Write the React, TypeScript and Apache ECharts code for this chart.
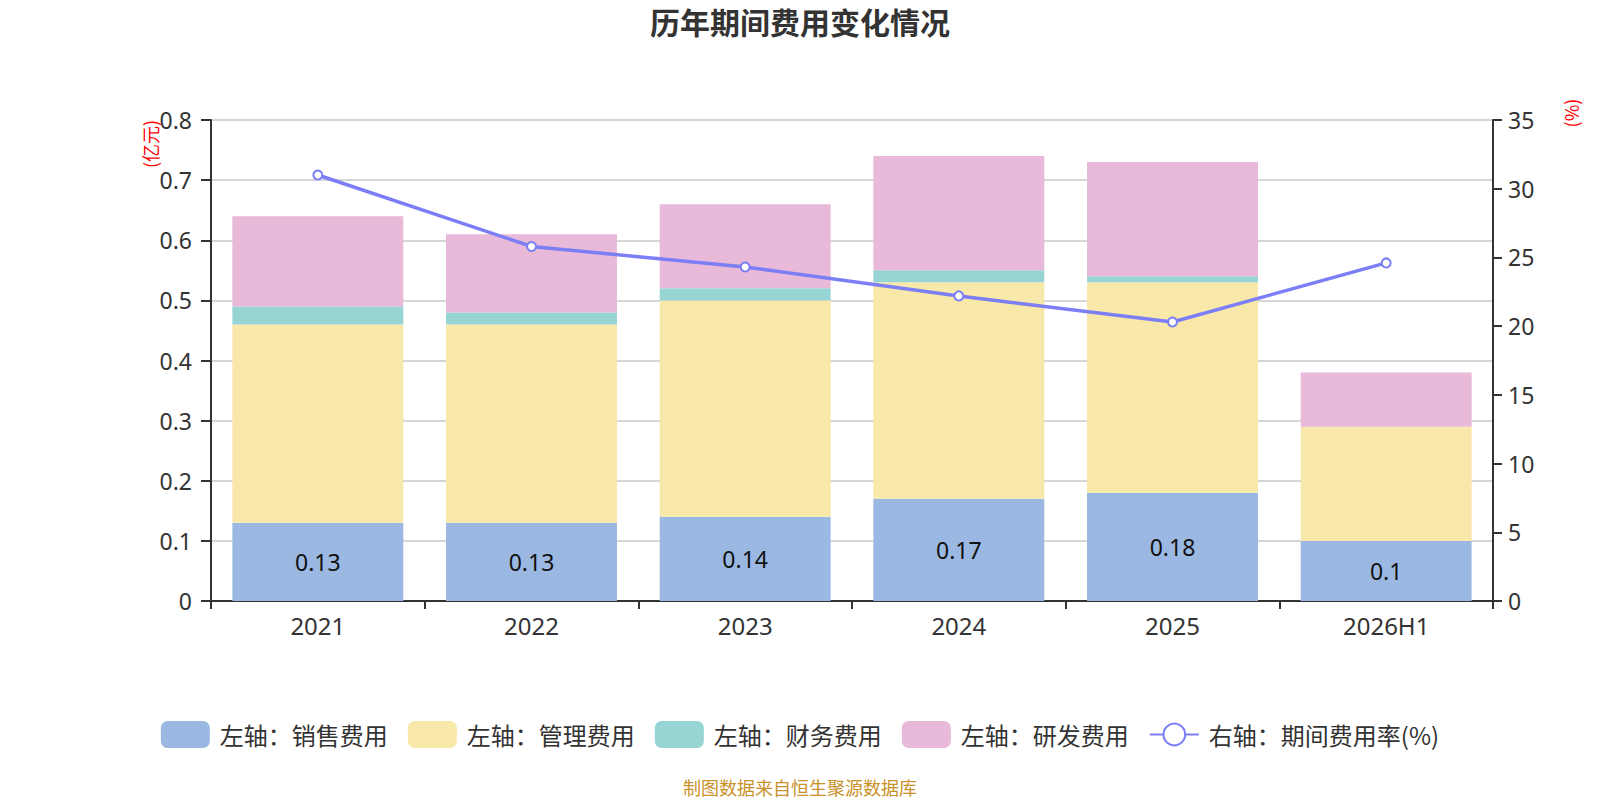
import React, { useEffect, useRef } from "react";
import * as echarts from "echarts";

const categories = ["2021", "2022", "2023", "2024", "2025", "2026H1"];
const salesExpense = [0.13, 0.13, 0.14, 0.17, 0.18, 0.1];
const adminExpense = [0.33, 0.33, 0.36, 0.36, 0.35, 0.19];
const financeExpense = [0.03, 0.02, 0.02, 0.02, 0.01, 0];
const rdExpense = [0.15, 0.13, 0.14, 0.19, 0.19, 0.09];
const expenseRate = [31.0, 25.8, 24.3, 22.2, 20.3, 24.6];

const FONT = "'Noto Sans', 'Noto Sans CJK SC', sans-serif";
const CJK_FONT = "'Noto Sans CJK SC', 'Noto Sans', sans-serif";

export default function App() {
  const chartRef = useRef<HTMLDivElement>(null);

  useEffect(() => {
    if (!chartRef.current) return;
    const chart = echarts.init(chartRef.current, undefined, { renderer: "svg" });

    const barSeries = (name: string, data: number[], color: string, showLabel = false) => ({
      name,
      type: "bar",
      stack: "total",
      barWidth: "80%",
      data,
      itemStyle: { color },
      label: showLabel
        ? { show: true, position: "inside", fontSize: 23, color: "#111", fontFamily: FONT }
        : { show: false },
    });

    const option: echarts.EChartsOption = {
      animation: false,
      textStyle: { fontFamily: FONT },
      title: {
        text: "历年期间费用变化情况",
        left: "center",
        top: 1,
        textStyle: { fontSize: 30, fontWeight: "bold", color: "#333", fontFamily: CJK_FONT },
      },
      grid: { left: 211, right: 107, top: 120, bottom: 199 },
      legend: {
        bottom: 47,
        left: "center",
        itemWidth: 49,
        itemHeight: 27,
        itemGap: 20,
        textStyle: { fontSize: 24, color: "#333", fontFamily: CJK_FONT, padding: [0, 0, 0, 5] },
        data: [
          { name: "左轴：销售费用", icon: "roundRect" },
          { name: "左轴：管理费用", icon: "roundRect" },
          { name: "左轴：财务费用", icon: "roundRect" },
          { name: "左轴：研发费用", icon: "roundRect" },
          { name: "右轴：期间费用率(%)" },
        ],
      },
      xAxis: {
        type: "category",
        data: categories,
        axisLine: { lineStyle: { color: "#333", width: 2 } },
        axisTick: { show: true, length: 8, lineStyle: { color: "#333", width: 2 } },
        axisLabel: { fontSize: 24, color: "#333", margin: 12 },
      },
      yAxis: [
        {
          type: "value",
          min: 0,
          max: 0.8,
          interval: 0.1,
          axisLine: { show: true, lineStyle: { color: "#333", width: 2 } },
          axisTick: { show: true, length: 10, lineStyle: { color: "#333", width: 2 } },
          axisLabel: { fontSize: 23, color: "#333", margin: 19 },
          splitLine: { lineStyle: { color: "#c8c8c8", width: 1.5 } },
        },
        {
          type: "value",
          min: 0,
          max: 35,
          interval: 5,
          position: "right",
          axisLine: { show: true, lineStyle: { color: "#333", width: 2 } },
          axisTick: { show: true, length: 9, lineStyle: { color: "#333", width: 2 } },
          axisLabel: { fontSize: 23, color: "#333", margin: 15 },
          splitLine: { show: false },
        },
      ],
      graphic: [
        {
          type: "text",
          x: 150,
          y: 144,
          rotation: Math.PI / 2,
          style: {
            text: "(亿元)",
            fill: "#f00",
            font: `18px ${CJK_FONT}`,
            textAlign: "center",
            textVerticalAlign: "middle",
          },
        },
        {
          type: "text",
          x: 1571,
          y: 113,
          rotation: Math.PI / 2,
          style: {
            text: "(%)",
            fill: "#f00",
            font: `18px ${CJK_FONT}`,
            textAlign: "center",
            textVerticalAlign: "middle",
          },
        },
        {
          type: "text",
          left: "center",
          top: 778,
          style: {
            text: "制图数据来自恒生聚源数据库",
            fill: "#c8912a",
            font: `18px ${CJK_FONT}`,
          },
        },
      ],
      series: [
        barSeries("左轴：销售费用", salesExpense, "#9bb8e2", true),
        barSeries("左轴：管理费用", adminExpense, "#f8e8a9"),
        barSeries("左轴：财务费用", financeExpense, "#97d4d4"),
        barSeries("左轴：研发费用", rdExpense, "#e8b9d8"),
        {
          name: "右轴：期间费用率(%)",
          type: "line",
          yAxisIndex: 1,
          data: expenseRate,
          symbol: "emptyCircle",
          symbolSize: 9,
          lineStyle: { color: "#7b7ef5", width: 3.5 },
          itemStyle: { color: "#7b7ef5", borderWidth: 2 },
          z: 5,
        },
      ] as echarts.SeriesOption[],
    };

    chart.setOption(option);
    return () => chart.dispose();
  }, []);

  return (
    <div
      ref={chartRef}
      style={{ position: "absolute", left: 0, top: 0, width: 1600, height: 800 }}
    />
  );
}
